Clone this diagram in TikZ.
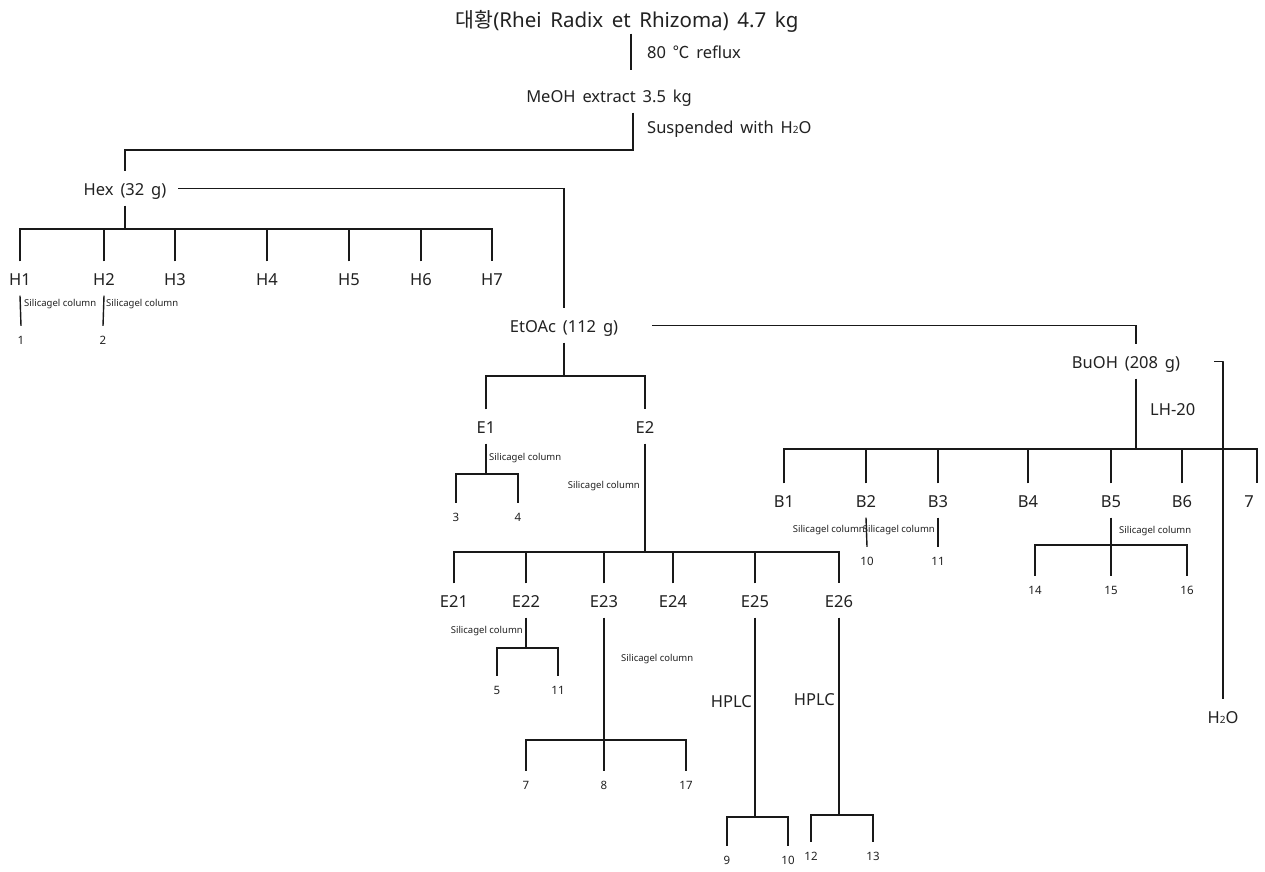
\documentclass[tikz,border=0pt]{standalone}
\usepackage{fontspec}
\setmainfont{Noto Sans}[WordSpace=1.6]
\newfontfamily\sgfont{Noto Sans}
\newfontfamily\kr{Noto Sans CJK KR}
\definecolor{txt}{HTML}{222222}
\begin{document}
\begin{tikzpicture}[x=1pt,y=-1pt,
  mlab/.style={font=\fontsize{16.5}{18}\selectfont, anchor=base, inner sep=0pt, text height=24pt, text depth=10pt, text=txt},
  ttl/.style={font=\fontsize{20.5}{24}\selectfont, anchor=base, inner sep=0pt, text depth=6pt, text=txt},
  side/.style={font=\fontsize{16.5}{18}\selectfont, inner sep=0pt, text=txt},
  num/.style={font=\sgfont\fontsize{11.5}{13}\selectfont, anchor=base, inner sep=0pt, text height=18pt, text depth=3pt, text=txt},
  sg/.style={font=\sgfont\fontsize{9.5}{11}\selectfont, inner sep=0pt, text=txt},
  conn/.style={draw=black!90, line width=1.4pt}]
\useasboundingbox (0,0) rectangle (1265,871);
\fill[white] (0,0) rectangle (1265,871);

% top
\node[ttl] (title) at (627,27.5) {{\kr 대황}(Rhei Radix et Rhizoma) 4.7 kg};
\node[side, anchor=base west] (reflux) at (647,58.5) {80 {\kr ℃} reflux};
\node[mlab] (meoh) at (609,102.5) {MeOH extract 3.5 kg};
\node[side, anchor=base west] (susp) at (647,133.5) {Suspended with H{\fontsize{10}{12}\selectfont 2}O};
\draw[conn] ([xshift=4pt]title.south) -- ([xshift=22pt,yshift=8pt]meoh.north);

% hexane
\node[mlab] (hex) at (125,195.5) {Hex (32 g)};
\coordinate (s1) at (633,150);
\draw[conn] ([xshift=24pt]meoh.south) -- (s1) -| (hex.north);
\coordinate (hbar) at (125,229);
\node[mlab] (h1) at (20,285.5) {H1};
\node[mlab] (h2) at (104,285.5) {H2};
\node[mlab] (h3) at (175,285.5) {H3};
\node[mlab] (h4) at (267,285.5) {H4};
\node[mlab] (h5) at (349,285.5) {H5};
\node[mlab] (h6) at (421,285.5) {H6};
\node[mlab] (h7) at (492,285.5) {H7};
\draw[conn] (hex.south) -- (hbar);
\draw[conn] (h1.north) |- (h7.north |- hbar) -- (h7.north);
\foreach \n in {h2,h3,h4,h5,h6} \draw[conn] (\n.north) -- (\n.north |- hbar);
\node[num] (n1) at (21,344) {1};
\node[num] (n2) at (103,344) {2};
\draw[conn] (h1.south) -- (n1.north);
\draw[conn] (h2.south) -- (n2.north);
\node[sg, anchor=west] (sg1) at (24,304) {Silicagel column};
\node[sg, anchor=west] (sg2) at (106,304) {Silicagel column};

% EtOAc
\node[mlab] (etoac) at (564,332.5) {EtOAc (112 g)};
\draw[conn] ([xshift=12pt]hex.east) -| (etoac.north);
\coordinate (ebar) at (564,376);
\node[mlab] (e1) at (486,433.5) {E1};
\node[mlab] (e2) at (645,433.5) {E2};
\draw[conn] (etoac.south) -- (ebar);
\draw[conn] (e1.north) |- (e2.north |- ebar) -- (e2.north);

\node[num] (n3) at (456,521) {3};
\node[num] (n4) at (518,521) {4};
\coordinate (e1bar) at (486,474);
\draw[conn] (e1.south) -- (e1bar);
\draw[conn] (n3.north) |- (n4.north |- e1bar) -- (n4.north);
\node[sg, anchor=west] (sg3) at (489,458) {Silicagel column};

\node[sg, anchor=east] (sg4) at (640,486) {Silicagel column};
\coordinate (e2bar) at (645,552);
\draw[conn] (e2.south) -- (e2bar);
\node[mlab] (e21) at (454,607.5) {E21};
\node[mlab] (e22) at (526,607.5) {E22};
\node[mlab] (e23) at (604,607.5) {E23};
\node[mlab] (e24) at (673,607.5) {E24};
\node[mlab] (e25) at (755,607.5) {E25};
\node[mlab] (e26) at (839,607.5) {E26};
\draw[conn] (e21.north) |- (e26.north |- e2bar) -- (e26.north);
\foreach \n in {e22,e23,e24,e25} \draw[conn] (\n.north) -- (\n.north |- e2bar);

% E22
\node[sg, anchor=east] (sg5) at (523,631) {Silicagel column};
\coordinate (e22bar) at (526,648);
\node[num] (n5) at (497,694) {5};
\node[num] (n11a) at (558,694) {11};
\draw[conn] (e22.south) -- (e22bar);
\draw[conn] (n5.north) |- (n11a.north |- e22bar) -- (n11a.north);

% E23
\node[sg, anchor=west] (sg6) at (621,659) {Silicagel column};
\node[num] (n7a) at (526,789) {7};
\node[num] (n8) at (604,789) {8};
\node[num] (n17) at (686,789) {17};
\coordinate (e23bar) at (604,740);
\draw[conn] (e23.south) -- (n8.north);
\draw[conn] (n7a.north) |- (n17.north |- e23bar) -- (n17.north);

% E25
\node[side, anchor=east] (hplc1) at (752,702) {HPLC};
\node[num] (n9) at (727,864) {9};
\node[num] (n10a) at (788,864) {10};
\coordinate (e25bar) at (755,817);
\draw[conn] (e25.south) -- (e25bar);
\draw[conn] (n9.north) |- (n10a.north |- e25bar) -- (n10a.north);

% E26
\node[side, anchor=east] (hplc2) at (835,700) {HPLC};
\node[num] (n12) at (811,860) {12};
\node[num] (n13) at (873,860) {13};
\coordinate (e26bar) at (839,815);
\draw[conn] (e26.south) -- (e26bar);
\draw[conn] (n12.north) |- (n13.north |- e26bar) -- (n13.north);

% BuOH
\node[mlab] (buoh) at (1126,368.5) {BuOH (208 g)};
\draw[conn] ([xshift=34pt]etoac.east) -| ([xshift=10pt]buoh.north);
\node[side, anchor=west] (lh) at (1150,410) {LH-20};
\coordinate (bbar) at (1136,449);
\draw[conn] ([xshift=10pt]buoh.south) -- (bbar);
\node[mlab] (b1) at (784,507.5) {B1};
\node[mlab] (b2) at (866,507.5) {B2};
\node[mlab] (b3) at (938,507.5) {B3};
\node[mlab] (b4) at (1028,507.5) {B4};
\node[mlab] (b5) at (1111,507.5) {B5};
\node[mlab] (b6) at (1182,507.5) {B6};
\node[mlab] (b7) at (1249,507.5) {7};
\draw[conn] (b1.north) |- ([xshift=8pt]b7.north |- bbar) -- ([xshift=8pt]b7.north);
\foreach \n in {b2,b3,b4,b5,b6} \draw[conn] (\n.north) -- (\n.north |- bbar);

\node[mlab] (h2o) at (1223,723.5) {H{\fontsize{10}{12}\selectfont 2}O};
\draw[conn] ([xshift=34pt]buoh.east) -- ++(9,0) -| (h2o.north);

% B2, B3
\node[num] (n10b) at (867,565) {10};
\node[num] (n11b) at (938,565) {11};
\draw[conn] (b2.south) -- (n10b.north);
\draw[conn] (b3.south) -- (n11b.north);
\node[sg, anchor=east] (sg7) at (865,530) {Silicagel column};
\node[sg, anchor=east] (sg8) at (935,530) {Silicagel column};

% B5
\node[sg, anchor=west] (sg9) at (1119,531) {Silicagel column};
\node[num] (n14) at (1035,594) {14};
\node[num] (n15) at (1111,594) {15};
\node[num] (n16) at (1187,594) {16};
\coordinate (b5bar) at (1111,545);
\draw[conn] (b5.south) -- (n15.north);
\draw[conn] (n14.north) |- (n16.north |- b5bar) -- (n16.north);
\end{tikzpicture}
\end{document}
